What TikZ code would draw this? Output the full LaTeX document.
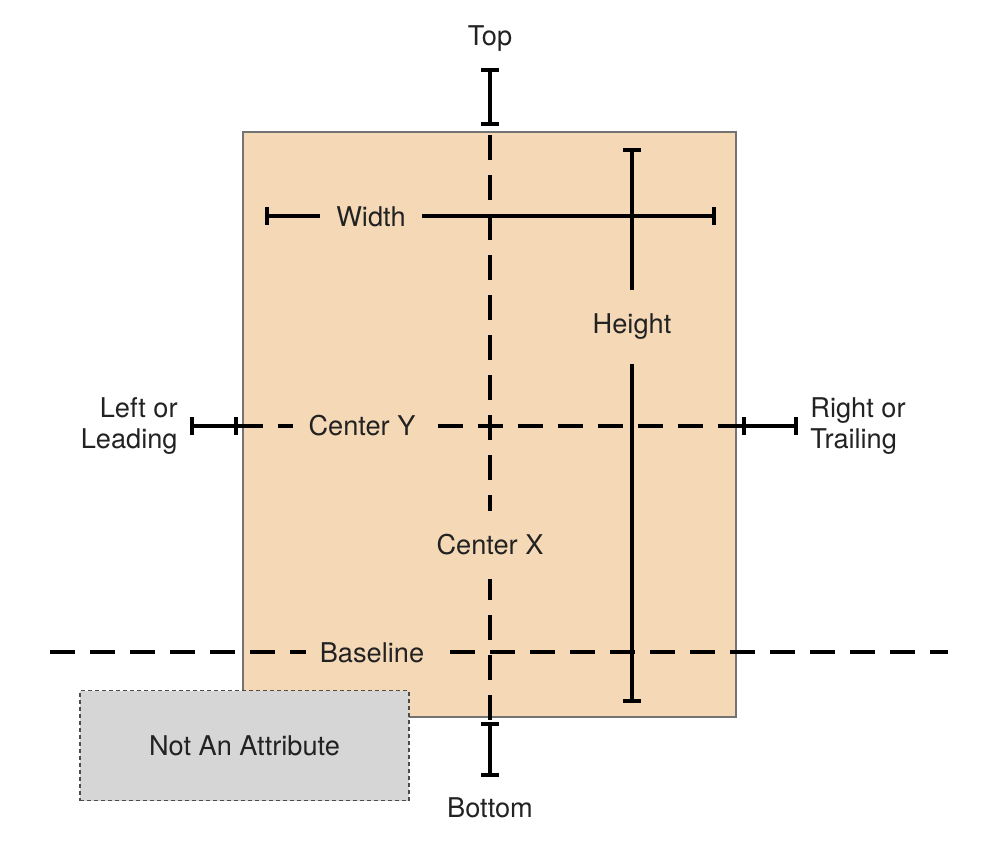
\documentclass[tikz,border=0pt]{standalone}
\usepackage{fontspec}
\setmainfont{TeX Gyre Heros}
\usetikzlibrary{arrows.meta}
\definecolor{peach}{HTML}{F5D9B7}
\definecolor{grayfill}{HTML}{D6D6D6}
\definecolor{txt}{HTML}{222222}
\begin{document}
\begin{tikzpicture}[x=0.5pt,y=-0.5pt,
  every node/.style={font=\fontsize{13.6}{15.5}\selectfont, text=txt},
  solidline/.style={line width=2pt, black},
  dashline/.style={line width=2pt, black, dash pattern=on 12.5pt off 7.5pt},
  ibeam/.style={line width=2pt, black, {Bar[width=9pt]}-{Bar[width=9pt]}},
  peachlabel/.style={fill=peach, inner xsep=8pt, inner ysep=4pt},
]
\useasboundingbox (0,0) rectangle (994,840);
% main frame
\node[draw=black!55, line width=0.7pt, fill=peach, minimum width=246.5pt, minimum height=292.5pt, inner sep=0pt] (frame) at (489.5,424.5) {};

% coordinates
\coordinate (cxT) at (490,135);
\coordinate (cxB) at (490,720);
\coordinate (cyL) at (238,426);
\coordinate (cyR) at (742,426);
\coordinate (blL) at (50,652);
\coordinate (blR) at (948,652);
\coordinate (wL) at (265,216);
\coordinate (wR) at (716,216);
\coordinate (hT) at (632,148);
\coordinate (hB) at (632,703);
\coordinate (topA) at (490,68);
\coordinate (topB) at (490,126);
\coordinate (botA) at (490,722);
\coordinate (botB) at (490,777);
\coordinate (leftA) at (190,426);
\coordinate (rightB) at (798,426);

% dashed guide lines
\draw[dashline] (cxT) -- (cxB);
\draw[dashline] (cyL) -- (cyR);
\draw[dashline] (blL) -- (blR);

% width and height
\draw[ibeam] (wL) -- (wR);
\draw[ibeam] (hT) -- (hB);

% labels on lines
\node[peachlabel] (widthlbl) at (371,217) {Width};
\node[fill=peach, inner xsep=4pt, inner ysep=12pt] (heightlbl) at (632,327) {Height};
\node[peachlabel] (cylbl) at (362,426) {Center Y};
\node[fill=peach, inner xsep=4pt, inner ysep=12pt] (cxlbl) at (490,545) {Center X};
\node[peachlabel, inner xsep=7pt] (bllbl) at (372,653) {Baseline};

% outer I-beams
\draw[ibeam] (topA) -- (topB);
\draw[ibeam] (botA) -- (botB);
\draw[ibeam] (leftA) -- (cyL);
\draw[ibeam] (cyR) -- (rightB);

\node (toplbl) at (490,39) {Top};
\node (botlbl) at (490,808) {Bottom};
\node[anchor=east, align=right, inner sep=0pt] (leftlbl) at (178,426) {Left or\\Leading};
\node[anchor=west, align=left, inner sep=0pt] (rightlbl) at (810,426) {Right or\\Trailing};

% not an attribute box
\node[draw=black!70, line width=0.6pt, dash pattern=on 2pt off 1.5pt, fill=grayfill, minimum width=164.5pt, minimum height=55pt, inner sep=0pt] (naa) at (244.5,745.5) {Not An Attribute};
\end{tikzpicture}
\end{document}
